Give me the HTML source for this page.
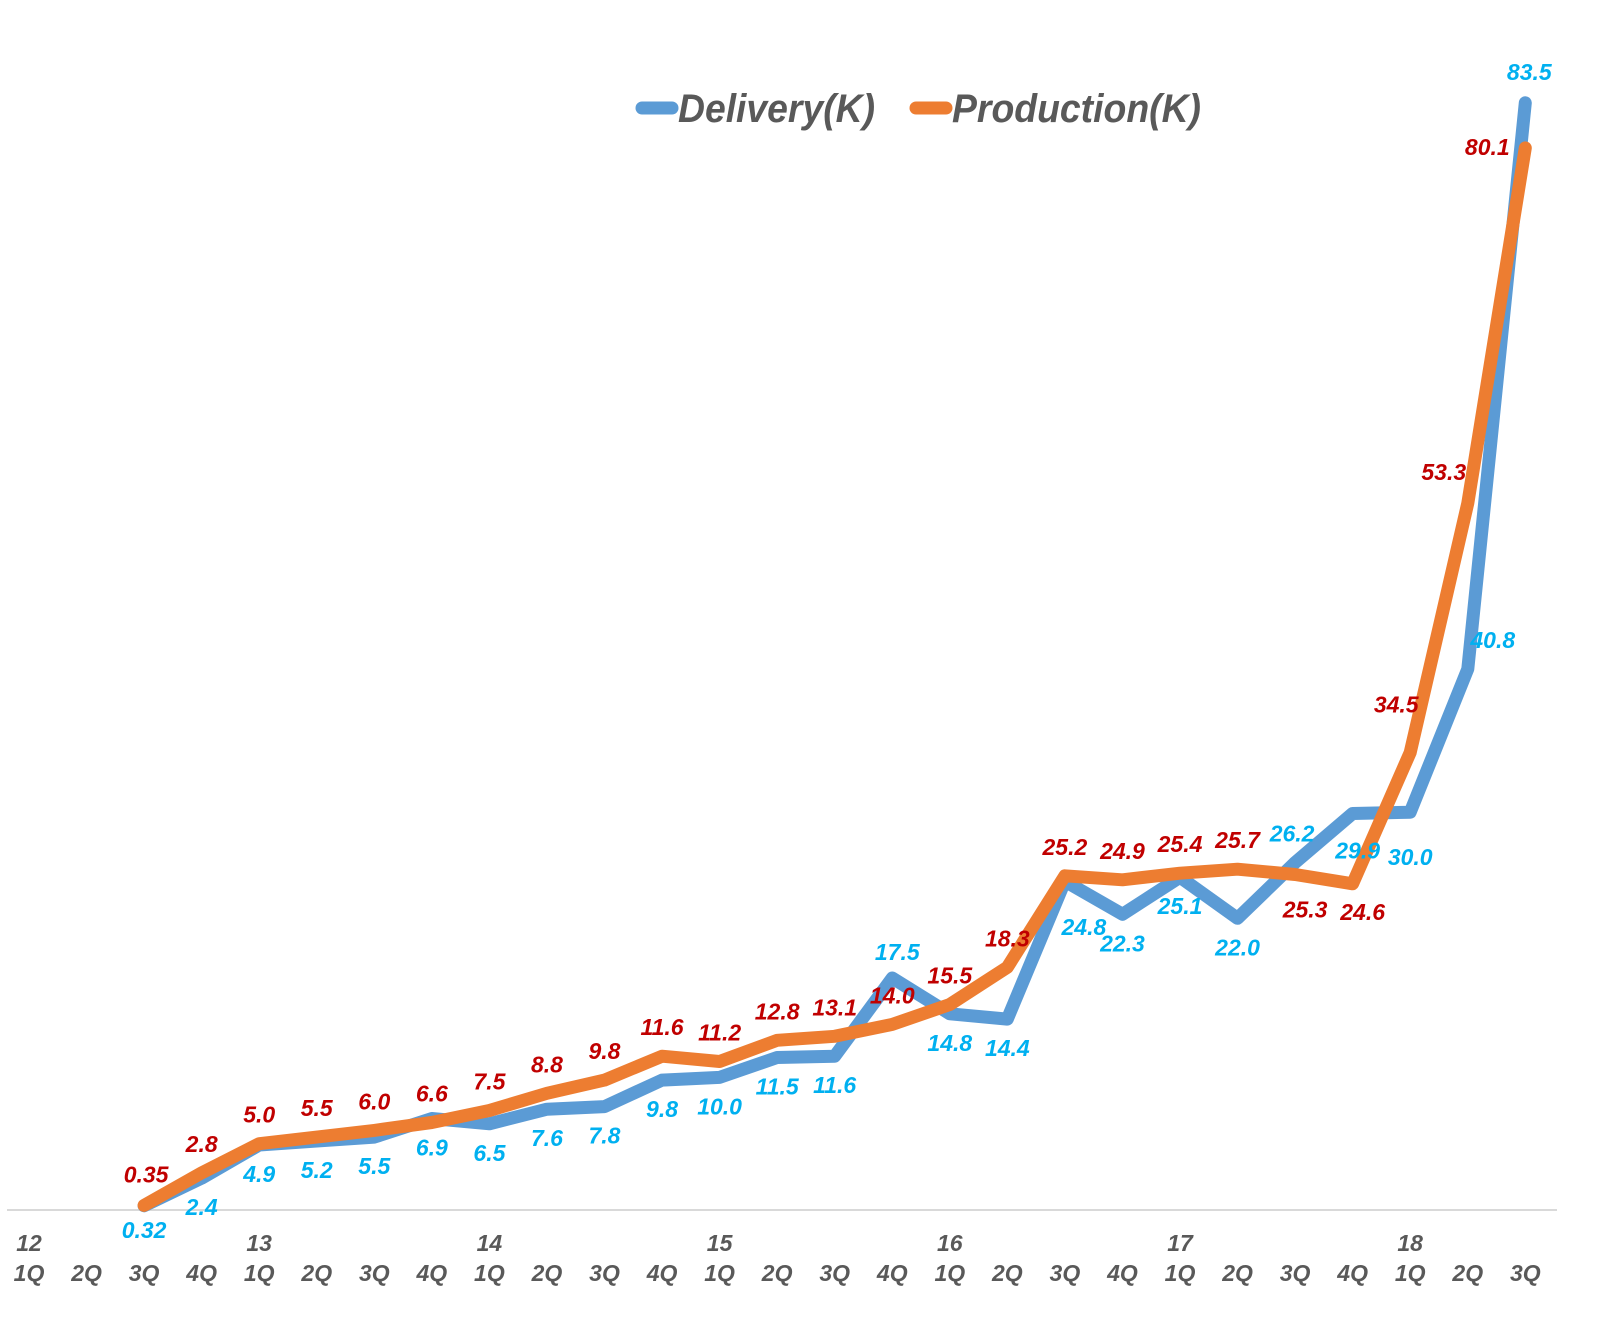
<!DOCTYPE html>
<html><head><meta charset="utf-8"><style>
html,body{margin:0;padding:0;background:#fff;}
svg{display:block;}
text{font-family:"Liberation Sans",sans-serif;font-weight:bold;font-style:italic;}
</style></head><body>
<svg id="chart" width="1621" height="1319" viewBox="0 0 1621 1319" xmlns="http://www.w3.org/2000/svg">
<g>
<line x1="642" y1="108" x2="672" y2="108" stroke="#5B9BD5" stroke-width="13" stroke-linecap="round"/>
<text x="678" y="122" font-size="40" fill="#595959" textLength="197" lengthAdjust="spacingAndGlyphs">Delivery(K)</text>
<line x1="916" y1="108" x2="946" y2="108" stroke="#ED7D31" stroke-width="13" stroke-linecap="round"/>
<text x="952" y="122" font-size="40" fill="#595959" textLength="249" lengthAdjust="spacingAndGlyphs">Production(K)</text>
</g>
<line x1="7" y1="1210" x2="1557" y2="1210" stroke="#D9D9D9" stroke-width="2"/>
<g id="axis"></g>
<g id="series"></g>
<g id="labels"></g>
</svg>
<script>
const quarters = ["1Q","2Q","3Q","4Q","1Q","2Q","3Q","4Q","1Q","2Q","3Q","4Q","1Q","2Q","3Q","4Q","1Q","2Q","3Q","4Q","1Q","2Q","3Q","4Q","1Q","2Q","3Q"];
const years = ["12","","","","13","","","","14","","","","15","","","","16","","","","17","","","","18","",""];
const firstDataIndex = 2;
const delivery = [0.32,2.4,4.9,5.2,5.5,6.9,6.5,7.6,7.8,9.8,10.0,11.5,11.6,17.5,14.8,14.4,24.8,22.3,25.1,22.0,26.2,29.9,30.0,40.8,83.5];
const deliveryLabels = ["0.32","2.4","4.9","5.2","5.5","6.9","6.5","7.6","7.8","9.8","10.0","11.5","11.6","17.5","14.8","14.4","24.8","22.3","25.1","22.0","26.2","29.9","30.0","40.8","83.5"];
const production = [0.35,2.8,5.0,5.5,6.0,6.6,7.5,8.8,9.8,11.6,11.2,12.8,13.1,14.0,15.5,18.3,25.2,24.9,25.4,25.7,25.3,24.6,34.5,53.3,80.1];
const productionLabels = ["0.35","2.8","5.0","5.5","6.0","6.6","7.5","8.8","9.8","11.6","11.2","12.8","13.1","14.0","15.5","18.3","25.2","24.9","25.4","25.7","25.3","24.6","34.5","53.3","80.1"];

const NS="http://www.w3.org/2000/svg";
const x0=29, step=57.55, y0=1210, k=13.26;
function xScale(i){return x0+i*step;}
function yScale(v){return y0-v*k;}
function mk(tag,attrs,parent){const e=document.createElementNS(NS,tag);for(const a in attrs)e.setAttribute(a,attrs[a]);parent.appendChild(e);return e;}

const axis=document.getElementById('axis');
quarters.forEach((q,i)=>{
  const t=mk('text',{x:xScale(i),y:1281,'font-size':23,fill:'#595959','text-anchor':'middle'},axis);
  
  
  t.textContent=q;
  if(years[i]){
    const y=mk('text',{x:xScale(i),y:1251,'font-size':23,fill:'#595959','text-anchor':'middle'},axis);
    
    
    y.textContent=years[i];
  }
});

const series=document.getElementById('series');
function pts(arr){return arr.map((v,j)=>xScale(j+firstDataIndex).toFixed(1)+','+yScale(v).toFixed(1)).join(' ');}
const dl=mk('polyline',{points:pts(delivery),fill:'none',stroke:'#5B9BD5','stroke-width':13,'stroke-linejoin':'round','stroke-linecap':'round'},series);


const pl=mk('polyline',{points:pts(production),fill:'none',stroke:'#ED7D31','stroke-width':13,'stroke-linejoin':'round','stroke-linecap':'round'},series);



// label placement offsets (layout only)
const dOff={0:[0,32],13:[5,-18],16:[19,54],20:[-3,-21],21:[5,45],22:[0,53],23:[25,-21],24:[4,-23]};
const pOff={0:[2,-23],20:[10,43],21:[10,36],22:[-14,-40],23:[-24,-23],24:[-38,7]};
const labels=document.getElementById('labels');
delivery.forEach((v,j)=>{
  const o=dOff[j]||[0,37];
  const t=mk('text',{x:xScale(j+firstDataIndex)+o[0],y:yScale(v)+o[1],'font-size':23,fill:'#00B0F0','text-anchor':'middle'},labels);
  
  
  t.textContent=deliveryLabels[j];
});
production.forEach((v,j)=>{
  const o=pOff[j]||[0,-21];
  const t=mk('text',{x:xScale(j+firstDataIndex)+o[0],y:yScale(v)+o[1],'font-size':23,fill:'#C00000','text-anchor':'middle'},labels);
  
  
  t.textContent=productionLabels[j];
});
</script>
</body></html>
